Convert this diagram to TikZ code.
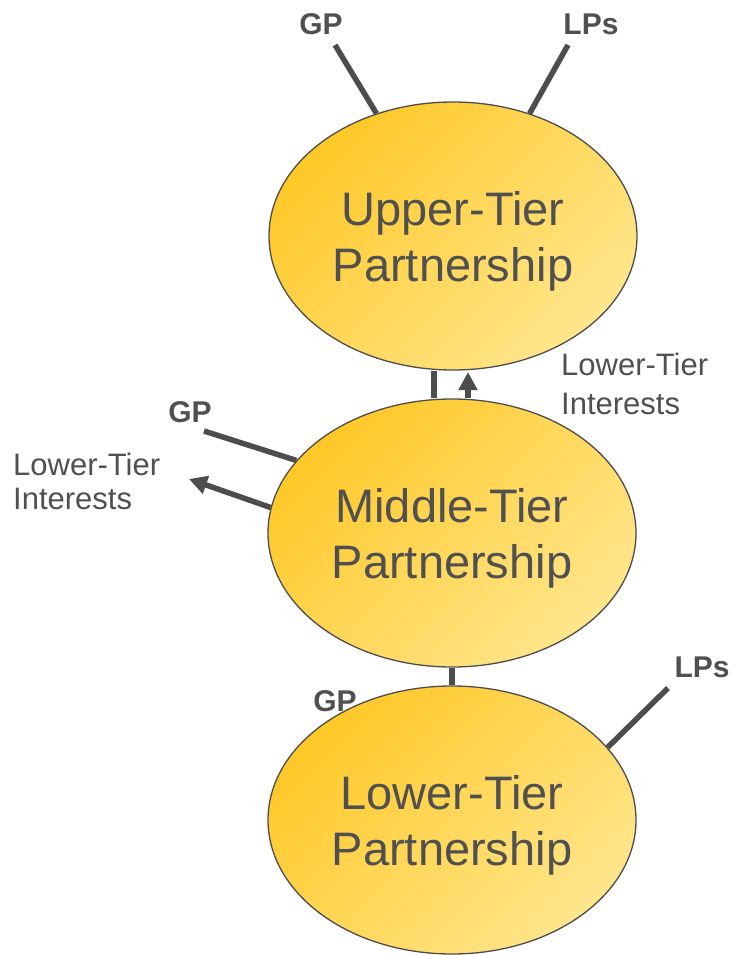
\documentclass[tikz,border=0pt]{standalone}
\usepackage{fontspec}
\setmainfont{Liberation Sans}
\usetikzlibrary{shapes.geometric,arrows.meta,calc}
\definecolor{inkgray}{RGB}{80,80,80}
\definecolor{linegray}{RGB}{77,77,77}
\definecolor{goldA}{RGB}{255,200,40}
\definecolor{goldB}{RGB}{255,230,140}

\begin{document}
\begin{tikzpicture}[x=1pt,y=-1pt,
  tier/.style={ellipse, draw=linegray, line width=1.3pt,
    minimum width=368pt, minimum height=268pt, inner sep=0pt,
    top color=goldA, bottom color=goldB, shading angle=45,
    text=inkgray, align=center, text depth=-4pt,
    font=\fontsize{47}{56}\selectfont},
  tag/.style={text=inkgray, inner sep=0pt, font=\bfseries\fontsize{30}{36}\selectfont},
  note/.style={text=inkgray, align=left, inner sep=0pt, anchor=west},
  link/.style={draw=linegray, line width=5.5pt},
  flow/.style={link, -{Triangle[width=18pt,length=18pt]}}]

\useasboundingbox (0,0) rectangle (735,955);

% partnership tiers
\node[tier] (upper)  at (453,236) {Upper-Tier\\Partnership};
\node[tier] (middle) at (452,533) {Middle-Tier\\Partnership};
\node[tier] (lower)  at (452,820) {Lower-Tier\\Partnership};

% partner labels
\node[tag] (gpU) at (321,24)  {GP};
\node[tag] (lpU) at (591,24)  {LPs};
\node[tag] (gpM) at (190,412) {GP};
\node[tag] (gpL) at (335,701) {GP};
\node[tag] (lpL) at (702,667) {LPs};

% interest notes
\node[note, font=\fontsize{31}{39}\selectfont] (intU) at (561,384) {Lower-Tier\\Interests};
\node[note, font=\fontsize{31}{34}\selectfont] (intM) at (13,481) {Lower-Tier\\Interests};

% outer ends of the connectors
\coordinate (gpUend) at (335,45);
\coordinate (lpUend) at (568,45);
\coordinate (gpMend) at (204,431);
\coordinate (ltMend) at (189,479);
\coordinate (ltUend) at (468,372);
\coordinate (lpLend) at (668,688);

% connectors
\draw[link] (gpUend) -- (upper.122.2);
\draw[link] (lpUend) -- (upper.58.2);
\draw[link] ($(upper.south)+(-19,0)$) -- ($(middle.north)+(-18,0)$);
\draw[flow] ($(middle.north)+(16,0)$) -- (ltUend);
\draw[link] (gpMend) -- (middle.155);
\draw[flow] (middle.172.9) -- (ltMend);
\draw[link] (middle.south) -- (lower.north);
\draw[link] (lpLend) -- (lower.25.1);
\end{tikzpicture}
\end{document}
